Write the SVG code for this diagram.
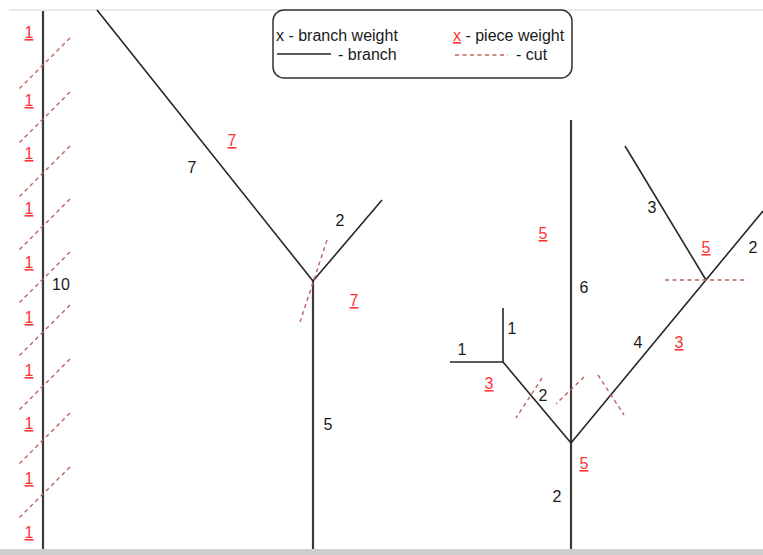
<svg xmlns="http://www.w3.org/2000/svg" width="763" height="555" viewBox="0 0 763 555">
<style>
.br{stroke:#262626;stroke-width:1.6;fill:none;stroke-linecap:butt}
.trunk{stroke:#3a3a3a;stroke-width:2.2;fill:none}
.cut{stroke:#c0605c;stroke-width:1.4;stroke-dasharray:4 3.5;fill:none}
.t{font-family:"Liberation Sans",Arial,sans-serif;font-size:16px;fill:#1a1a1a;text-anchor:middle}
.r{font-family:"Liberation Sans",Arial,sans-serif;font-size:16px;fill:#ff3333;text-anchor:middle;text-decoration:underline}
.lg{font-family:"Liberation Sans",Arial,sans-serif;font-size:16px;fill:#1a1a1a}
</style>
<rect width="763" height="555" fill="#ffffff"/>
<line x1="9" y1="10" x2="763" y2="10" stroke="#d4d4d4" stroke-width="1"/>
<rect x="0" y="549" width="763" height="6" fill="#cfcfcf"/>

<g id="legend">
  <rect x="273" y="10" width="299" height="68" rx="11" ry="11" fill="#ffffff" stroke="#333333" stroke-width="1.5"/>
  <text class="lg" x="276" y="41">x - branch weight</text>
  <text class="lg" x="453" y="41"><tspan fill="#ff3333" text-decoration="underline">x</tspan> - piece weight</text>
  <line x1="277" y1="54" x2="331" y2="54" stroke="#262626" stroke-width="1.4"/>
  <text class="lg" x="338" y="60">- branch</text>
  <line x1="455" y1="55" x2="508" y2="55" class="cut"/>
  <text class="lg" x="516" y="60">- cut</text>
</g>

<g id="left-trunk">
  <line class="trunk" x1="43" y1="11" x2="43" y2="549"/>
  <text class="t" x="61" y="290">10</text>
  <g id="left-cuts">
    <line class="cut" x1="70" y1="38" x2="17" y2="91"/>
    <line class="cut" x1="70" y1="92" x2="17" y2="145"/>
    <line class="cut" x1="70" y1="146" x2="17" y2="199"/>
    <line class="cut" x1="70" y1="199" x2="17" y2="252"/>
    <line class="cut" x1="70" y1="252" x2="17" y2="305"/>
    <line class="cut" x1="70" y1="305" x2="17" y2="358"/>
    <line class="cut" x1="70" y1="359" x2="17" y2="412"/>
    <line class="cut" x1="70" y1="413" x2="17" y2="466"/>
    <line class="cut" x1="70" y1="467" x2="17" y2="520"/>
  </g>
  <g id="left-pieces">
    <text class="r" x="29" y="38">1</text>
    <text class="r" x="29" y="106">1</text>
    <text class="r" x="29" y="159">1</text>
    <text class="r" x="29" y="214">1</text>
    <text class="r" x="29" y="268">1</text>
    <text class="r" x="29" y="323">1</text>
    <text class="r" x="29" y="376">1</text>
    <text class="r" x="29" y="429">1</text>
    <text class="r" x="29" y="484">1</text>
    <text class="r" x="29" y="538">1</text>
  </g>
</g>

<g id="y-tree">
  <line class="br" x1="97" y1="10" x2="313" y2="281"/>
  <line class="br" x1="313" y1="281" x2="382" y2="200"/>
  <line class="trunk" x1="313" y1="281" x2="313" y2="549"/>
  <line class="cut" x1="327" y1="240" x2="300" y2="322"/>
  <text class="t" x="192" y="173">7</text>
  <text class="r" x="232" y="146">7</text>
  <text class="t" x="340" y="226">2</text>
  <text class="r" x="354" y="306">7</text>
  <text class="t" x="328" y="430">5</text>
</g>

<g id="right-tree">
  <line class="trunk" x1="571" y1="120" x2="571" y2="549"/>
  <line class="br" x1="571" y1="443" x2="503" y2="362"/>
  <line class="br" x1="503" y1="362" x2="450" y2="362"/>
  <line class="br" x1="503" y1="362" x2="503" y2="308"/>
  <line class="br" x1="571" y1="443" x2="763" y2="211"/>
  <line class="br" x1="706" y1="280" x2="625" y2="146"/>
  <g id="right-cuts">
    <line class="cut" x1="665" y1="280" x2="744" y2="280"/>
    <line class="cut" x1="542" y1="378" x2="516" y2="418"/>
    <line class="cut" x1="584" y1="377" x2="556" y2="404"/>
    <line class="cut" x1="598" y1="375" x2="624" y2="415"/>
  </g>
  <text class="t" x="462" y="355">1</text>
  <text class="t" x="512" y="334">1</text>
  <text class="r" x="489" y="389">3</text>
  <text class="t" x="543" y="401">2</text>
  <text class="r" x="584" y="469">5</text>
  <text class="t" x="557" y="502">2</text>
  <text class="r" x="543" y="239">5</text>
  <text class="t" x="584" y="293">6</text>
  <text class="t" x="638" y="348">4</text>
  <text class="r" x="679" y="348">3</text>
  <text class="t" x="652" y="213">3</text>
  <text class="r" x="706" y="253">5</text>
  <text class="t" x="753" y="253">2</text>
</g>
</svg>
